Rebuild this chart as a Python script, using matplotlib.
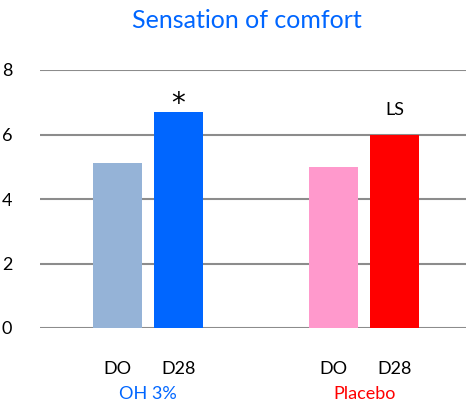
import matplotlib
matplotlib.use('Agg')
from matplotlib.pyplot import figure

groups = ['OH 3%', 'Placebo']
group_colors = ['#0066FF', '#FF0000']
days = ['DO', 'D28']
values = [[5.12, 6.70], [4.99, 6.00]]
bar_colors = [['#95B3D7', '#0066FF'], ['#FF99CC', '#FF0000']]
marks = [[None, '*'], [None, 'LS']]
yticks = [0, 2, 4, 6, 8]

fig = figure(figsize=(4.66, 4.03), dpi=100)
ax = fig.add_axes([40 / 466, 75 / 403, 426 / 466, 258 / 403])

font = ['Lato', 'DejaVu Sans']
group_gap = 3.54

for gi, grp in enumerate(groups):
    for di, day in enumerate(days):
        x = gi * group_gap + di
        v = values[gi][di]
        ax.bar(x, v, width=0.8, color=bar_colors[gi][di], zorder=3)
        ax.text(x, -1.27, day, ha='center', va='center', fontsize=13, family=font)
        if marks[gi][di] == '*':
            ax.text(x, v - 0.18, '*', ha='center', va='bottom', fontsize=20, family='DejaVu Sans')
        elif marks[gi][di]:
            ax.text(x, v + 0.5, marks[gi][di], ha='center', va='bottom', fontsize=13, family=font)
    ax.text(gi * group_gap + 0.5, -2.06, grp, ha='center', va='center', fontsize=13,
            color=group_colors[gi], family=font)

ax.set_xlim(-1.27, 5.71)
ax.set_ylim(0, 8)
ax.set_yticks(yticks)
ax.set_yticklabels([str(t) for t in yticks], fontsize=13, family=font)
ax.set_xticks([])
ax.tick_params(axis='y', length=0, pad=20)
ax.grid(axis='y', color='#8C8C8C', linewidth=1.5, zorder=0)
for s in ax.spines.values():
    s.set_visible(False)

fig.text(247 / 466, 1 - 20 / 403, 'Sensation of comfort', ha='center', va='center',
         fontsize=18, color='#0066FF', family=font)

fig.savefig('out.png', dpi=100)
